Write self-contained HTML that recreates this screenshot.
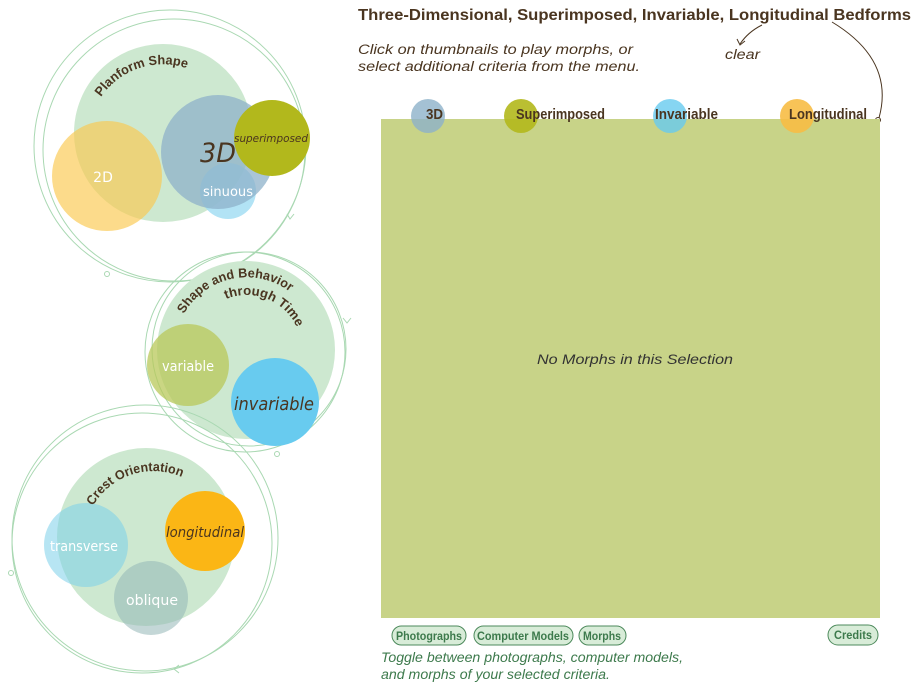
<!DOCTYPE html>
<html><head><meta charset="utf-8"><style>
html,body{margin:0;padding:0;background:#fff;width:916px;height:687px;overflow:hidden}
svg{display:block}
.cond{font-family:"Liberation Sans",sans-serif;font-weight:bold}
.it{font-family:"Liberation Sans",sans-serif;font-style:italic}
.hum{font-family:"DejaVu Sans","Liberation Sans",sans-serif}
</style></head><body>
<svg width="916" height="687" viewBox="0 0 916 687" xmlns="http://www.w3.org/2000/svg">
<defs>
<path id="arcP" d="M101,97 A75,75 0 0 1 196,72"/>
<path id="arcS1" d="M184,314 A72,72 0 0 1 301,302"/>
<path id="arcS2" d="M226,299 A55,55 0 0 1 299,333"/>
<path id="arcC" d="M93,506 A70,70 0 0 1 194,484"/>
</defs>
<!-- Planform rings -->
<g fill="none" stroke="#a9d8b2" stroke-width="1">
<circle cx="170" cy="146" r="136"/>
<circle cx="174" cy="150" r="131"/>
<circle cx="107" cy="274" r="2.5" fill="#fff"/>
<path d="M287,214 L290,219 L294,214"/>
</g>
<circle cx="163" cy="133" r="89" fill="#cde8d0"/>
<circle cx="107" cy="176" r="55" fill="#fbc84d" opacity="0.65"/>
<circle cx="228" cy="191" r="28" fill="#9fdcf2" opacity="0.8"/>
<circle cx="218" cy="152" r="57" fill="#8db2c9" opacity="0.75"/>
<circle cx="272" cy="138" r="38" fill="#b2b81c"/>
<text x="103" y="182" class="hum" font-size="14" fill="#fff" text-anchor="middle">2D</text>
<text x="218" y="162" class="hum" font-size="27" font-style="italic" fill="#4a3520" text-anchor="middle" textLength="36" lengthAdjust="spacingAndGlyphs">3D</text>
<text x="271" y="142" class="hum" font-size="11" font-style="italic" fill="#4a3520" text-anchor="middle" textLength="74" lengthAdjust="spacingAndGlyphs">superimposed</text>
<text x="228" y="196" class="hum" font-size="13" fill="#fff" text-anchor="middle" textLength="50" lengthAdjust="spacingAndGlyphs">sinuous</text>
<text class="cond" font-size="13" fill="#4a3520"><textPath href="#arcP" textLength="97" lengthAdjust="spacingAndGlyphs">Planform Shape</textPath></text>

<!-- Shape/Behavior -->
<g fill="none" stroke="#a9d8b2" stroke-width="1">
<circle cx="245" cy="352" r="100"/>
<circle cx="249" cy="349" r="97"/>
<circle cx="277" cy="454" r="2.5" fill="#fff"/>
<path d="M343,318 L347,323 L351,318"/>
</g>
<circle cx="246" cy="350" r="89" fill="#cde8d0"/>
<circle cx="188" cy="365" r="41" fill="#b8c85a" opacity="0.75"/>
<circle cx="275" cy="402" r="44" fill="#68cbef"/>
<text x="188" y="371" class="hum" font-size="14" fill="#fff" text-anchor="middle" textLength="52" lengthAdjust="spacingAndGlyphs">variable</text>
<text x="274" y="410" class="hum" font-size="18" font-style="italic" fill="#4a3520" text-anchor="middle" textLength="80" lengthAdjust="spacingAndGlyphs">invariable</text>
<text class="cond" font-size="13" fill="#4a3520"><textPath href="#arcS1" textLength="122" lengthAdjust="spacingAndGlyphs">Shape and Behavior</textPath></text>
<text class="cond" font-size="13" fill="#4a3520"><textPath href="#arcS2" textLength="84" lengthAdjust="spacingAndGlyphs">through Time</textPath></text>

<!-- Crest -->
<g fill="none" stroke="#a9d8b2" stroke-width="1">
<circle cx="145" cy="538" r="133"/>
<circle cx="142" cy="543" r="130"/>
<circle cx="11" cy="573" r="2.5" fill="#fff"/>
<path d="M179,665 L174,669 L179,673"/>
</g>
<circle cx="146" cy="537" r="89" fill="#cde8d0"/>
<circle cx="151" cy="598" r="37" fill="#93b6b6" opacity="0.55"/>
<circle cx="86" cy="545" r="42" fill="#7ccfe9" opacity="0.55"/>
<circle cx="205" cy="531" r="40" fill="#fbb615"/>
<text x="84" y="551" class="hum" font-size="14" fill="#fff" text-anchor="middle" textLength="68" lengthAdjust="spacingAndGlyphs">transverse</text>
<text x="205" y="537" class="hum" font-size="14" font-style="italic" fill="#4a3520" text-anchor="middle" textLength="78" lengthAdjust="spacingAndGlyphs">longitudinal</text>
<text x="152" y="605" class="hum" font-size="14" fill="#fff" text-anchor="middle" textLength="52" lengthAdjust="spacingAndGlyphs">oblique</text>
<text class="cond" font-size="13" fill="#4a3520"><textPath href="#arcC" textLength="102" lengthAdjust="spacingAndGlyphs">Crest Orientation</textPath></text>

<!-- Right panel -->
<text x="358" y="20" class="cond" font-size="16" fill="#4a3520" textLength="553" lengthAdjust="spacingAndGlyphs">Three-Dimensional, Superimposed, Invariable, Longitudinal Bedforms</text>
<text x="358" y="54" class="it" font-size="13.5" fill="#4a3520" textLength="275" lengthAdjust="spacingAndGlyphs">Click on thumbnails to play morphs, or</text>
<text x="358" y="71" class="it" font-size="13.5" fill="#4a3520" textLength="282" lengthAdjust="spacingAndGlyphs">select additional criteria from the menu.</text>
<text x="725" y="59" class="it" font-size="13.5" fill="#4a3520" textLength="35" lengthAdjust="spacingAndGlyphs">clear</text>
<g fill="none" stroke="#4a3520" stroke-width="1">
<path d="M762,25 Q748,32 740,44"/>
<path d="M737,39 L740,45 L745,41"/>
<path d="M832,22 Q895,60 879,118"/>
<circle cx="878" cy="120" r="2.5"/>
</g>
<rect x="381" y="119" width="499" height="499" fill="#c8d388"/>
<circle cx="428" cy="116" r="17" fill="#8db2c9" opacity="0.8"/>
<circle cx="521" cy="116" r="17" fill="#b2b81c" opacity="0.9"/>
<circle cx="670" cy="116" r="17" fill="#68cbef" opacity="0.8"/>
<circle cx="797" cy="116" r="17" fill="#f7bd45" opacity="0.9"/>
<g class="cond" font-size="15" fill="#4a3520">
<text x="426" y="119" textLength="17" lengthAdjust="spacingAndGlyphs">3D</text>
<text x="516" y="119" textLength="89" lengthAdjust="spacingAndGlyphs">Superimposed</text>
<text x="655" y="119" textLength="63" lengthAdjust="spacingAndGlyphs">Invariable</text>
<text x="789" y="119" textLength="78" lengthAdjust="spacingAndGlyphs">Longitudinal</text>
</g>
<text x="635" y="364" class="it" font-size="14" fill="#333" text-anchor="middle" textLength="196" lengthAdjust="spacingAndGlyphs">No Morphs in this Selection</text>

<g fill="#d8ecd8" stroke="#4d8a5c" stroke-width="1">
<rect x="392" y="626" width="74" height="19" rx="9.5"/>
<rect x="474" y="626" width="99" height="19" rx="9.5"/>
<rect x="579" y="626" width="47" height="19" rx="9.5"/>
<rect x="828" y="625" width="50" height="20" rx="10"/>
</g>
<g class="cond" font-size="12" fill="#3d7a4c" text-anchor="middle">
<text x="429" y="640" textLength="66" lengthAdjust="spacingAndGlyphs">Photographs</text>
<text x="523" y="640" textLength="92" lengthAdjust="spacingAndGlyphs">Computer Models</text>
<text x="602" y="640" textLength="38" lengthAdjust="spacingAndGlyphs">Morphs</text>
<text x="853" y="639" textLength="38" lengthAdjust="spacingAndGlyphs">Credits</text>
</g>
<text x="381" y="662" class="it" font-size="13.5" fill="#3d7a4c" textLength="302" lengthAdjust="spacingAndGlyphs">Toggle between photographs, computer models,</text>
<text x="381" y="679" class="it" font-size="13.5" fill="#3d7a4c" textLength="229" lengthAdjust="spacingAndGlyphs">and morphs of your selected criteria.</text>
</svg>
</body></html>
